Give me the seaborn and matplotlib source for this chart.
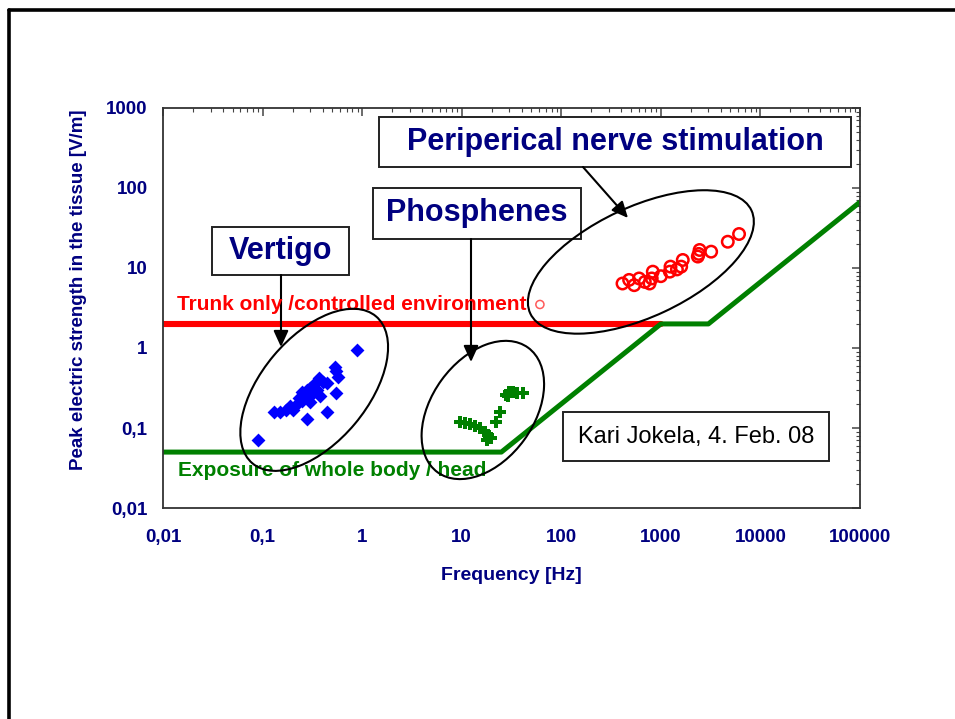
import numpy as np
import pandas as pd
import matplotlib
matplotlib.use("Agg")
import matplotlib.pyplot as plt
from matplotlib.patches import Ellipse, Rectangle
from matplotlib.lines import Line2D
from matplotlib.ticker import NullFormatter
from matplotlib.transforms import IdentityTransform
import seaborn as sns

# Vertigo thresholds
vertigo_freq = [0.09, 0.13, 0.15, 0.17, 0.19, 0.20, 0.22, 0.23, 0.25, 0.25, 0.27, 0.28, 0.28,
                0.30, 0.30, 0.32, 0.33, 0.35, 0.37, 0.38, 0.40, 0.44, 0.44, 0.53, 0.55, 0.57,
                0.55, 0.88]
vertigo_field = [0.07, 0.16, 0.16, 0.17, 0.19, 0.17, 0.20, 0.24, 0.22, 0.28, 0.25, 0.30, 0.13,
                 0.21, 0.32, 0.27, 0.35, 0.30, 0.42, 0.25, 0.38, 0.16, 0.36, 0.58, 0.51, 0.44,
                 0.27, 0.94]

# Phosphene thresholds
phos_freq = [9.6, 10.7, 12.0, 13.5, 15.2, 17.0, 18.3, 17.8, 19.8, 22.3, 24.5, 28, 29, 30,
             32.5, 35.5, 41]
phos_field = [0.12, 0.116, 0.112, 0.106, 0.099, 0.09, 0.082, 0.071, 0.074, 0.12, 0.16, 0.26,
              0.25, 0.28, 0.28, 0.27, 0.27]

# Peripheral nerve stimulation thresholds
pns_freq = [412, 480, 540, 605, 690, 770, 810, 830, 1000, 1230, 1250, 1450, 1600, 1660, 2350,
            2400, 2450, 3200, 4700, 6100]
pns_field = [6.4, 7.1, 6.1, 7.4, 6.7, 6.4, 7.4, 9.0, 7.9, 9.0, 10.4, 9.6, 10.4, 12.6, 13.9,
             15.0, 16.8, 16.0, 21.3, 26.6]
pns_extra_freq = [61]
pns_extra_field = [3.5]

# Limit curves
trunk_freq = [0.01, 1000]
trunk_field = [2, 2]
body_freq = [0.01, 25, 1000, 3000, 100000]
body_field = [0.05, 0.05, 2, 2, 66.7]

x_ticks = [0.01, 0.1, 1, 10, 100, 1000, 10000, 100000]
x_tick_labels = ["0,01", "0,1", "1", "10", "100", "1000", "10000", "100000"]
y_ticks = [0.01, 0.1, 1, 10, 100, 1000]
y_tick_labels = ["0,01", "0,1", "1", "10", "100", "1000"]

NAVY = "#000080"
RED = "#ff0000"
GREEN = "#008000"
BLUE = "#0000ff"

sns.set_theme(style="white")
plt.rcParams["font.family"] = ["Liberation Sans", "DejaVu Sans"]

W, H = 955, 719
fig = plt.figure(figsize=(W / 100, H / 100), dpi=100)
fig.patch.set_facecolor("white")

# axes box in pixel units
L, R, T, B = 163, 860, 108, 508
ax = fig.add_axes([L / W, 1 - B / H, (R - L) / W, (B - T) / H])
ax.set_xscale("log")
ax.set_yscale("log")
ax.set_xlim(0.01, 100000)
ax.set_ylim(0.01, 1000)

def ax_frac(px, py):
    return ((px - L) / (R - L), (B - py) / (B - T))

# limit lines
sns.lineplot(x=trunk_freq, y=trunk_field, ax=ax, color=RED, lw=4.4, sort=False,
             estimator=None, zorder=2)
sns.lineplot(x=body_freq, y=body_field, ax=ax, color=GREEN, lw=3.6, sort=False,
             estimator=None, zorder=2.1)

# threshold data
sns.scatterplot(x=vertigo_freq, y=vertigo_field, ax=ax, marker="D", s=50, color=BLUE,
                linewidth=0, zorder=3)
sns.scatterplot(x=phos_freq, y=phos_field, ax=ax, marker="P", s=85, color=GREEN,
                linewidth=0, zorder=3)
sns.scatterplot(x=pns_freq, y=pns_field, ax=ax, marker="o", s=68, color=RED, zorder=3)
coll = ax.collections[-1]
coll.set_facecolor("none")
coll.set_edgecolor(RED)
coll.set_linewidth(1.8)
sns.scatterplot(x=pns_extra_freq, y=pns_extra_field, ax=ax, marker="o", s=34, color=RED,
                zorder=3)
coll = ax.collections[-1]
coll.set_facecolor("none")
coll.set_edgecolor("#ff5a5a")
coll.set_linewidth(1.1)

fig.canvas.draw()

# ellipses around the groups (centre in data units, axes in pixels)
for (cx, cy), a, b, ang in [((0.33, 0.30), 96, 53, 50),
                            ((16.3, 0.168), 77, 51, 54),
                            ((630, 11.9), 122, 55, 25)]:
    cen = ax.transData.transform((cx, cy))
    e = Ellipse(cen, 2 * a, 2 * b, angle=ang, transform=IdentityTransform(),
                fill=False, edgecolor="black", lw=1.5, zorder=4, clip_on=False)
    fig.add_artist(e)

# labelled boxes
boxes = [("Vertigo", 212, 227, 349, 275, 22, "bold", NAVY),
         ("Phosphenes", 373, 188, 581, 239, 22, "bold", NAVY),
         ("Periperical nerve stimulation", 379, 117, 851, 167, 22, "bold", NAVY),
         ("Kari Jokela, 4. Feb. 08", 563, 412, 829, 461, 17, "normal", "black")]
for txt, x0, y0, x1, y1, fs, fw, col in boxes:
    fx0, fy1 = ax_frac(x0, y1)
    fx1, fy0 = ax_frac(x1, y0)
    ax.add_patch(Rectangle((fx0, fy1), fx1 - fx0, fy0 - fy1, transform=ax.transAxes,
                           facecolor="white", edgecolor="#222222", lw=1.4, zorder=5,
                           clip_on=False))
    ax.text((fx0 + fx1) / 2, (fy0 + fy1) / 2, txt, transform=ax.transAxes, ha="center",
            va="center", fontsize=fs, fontweight=fw, color=col, zorder=6)

# arrows from the boxes to the groups
for (sx, sy), (ex, ey) in [((281, 275), (281, 347)),
                           ((471, 239), (471, 362)),
                           ((583, 167), (628, 218))]:
    ax.annotate("", xy=ax_frac(ex, ey), xytext=ax_frac(sx, sy), xycoords="axes fraction",
                textcoords="axes fraction",
                arrowprops=dict(arrowstyle="-|>,head_length=0.7,head_width=0.32",
                                mutation_scale=14, color="black", lw=1.5,
                                shrinkA=0, shrinkB=0), zorder=5)

# limit labels
ax.text(*ax_frac(177, 304), "Trunk only /controlled environment", transform=ax.transAxes,
        ha="left", va="center", fontsize=15, fontweight="bold", color=RED, zorder=5)
ax.text(*ax_frac(178, 470), "Exposure of whole body / head", transform=ax.transAxes,
        ha="left", va="center", fontsize=15, fontweight="bold", color=GREEN, zorder=5)

# axes styling
ax.set_xticks(x_ticks)
ax.set_xticklabels(x_tick_labels)
ax.set_yticks(y_ticks)
ax.set_yticklabels(y_tick_labels)
ax.xaxis.set_minor_formatter(NullFormatter())
ax.yaxis.set_minor_formatter(NullFormatter())
ax.tick_params(which="both", direction="in", top=True, right=True, colors="#444444")
ax.tick_params(which="major", length=6, width=1.1)
ax.tick_params(which="minor", length=3, width=0.8)
ax.tick_params(axis="x", which="major", pad=15, labelsize=13.5, labelcolor=NAVY)
ax.tick_params(axis="y", which="major", pad=11, labelsize=13.5, labelcolor=NAVY)
for lab in ax.get_xticklabels() + ax.get_yticklabels():
    lab.set_fontweight("bold")
for sp in ax.spines.values():
    sp.set_color("#333333")
    sp.set_linewidth(1.3)

ax.set_xlabel("Frequency [Hz]", fontsize=14, fontweight="bold", color=NAVY)
ax.xaxis.set_label_coords(*ax_frac(511, 576))
ax.set_ylabel("Peak electric strength in the tissue [V/m]", fontsize=13.5,
              fontweight="bold", color=NAVY)
ax.yaxis.set_label_coords(*ax_frac(78, 290))
ax.xaxis.label.set_va("center")
ax.yaxis.label.set_va("center")

# page frame
fig.add_artist(Line2D([9 / W, 1], [1 - 10 / H, 1 - 10 / H], transform=fig.transFigure,
                      color="black", lw=2.6))
fig.add_artist(Line2D([9 / W, 9 / W], [0, 1 - 10 / H], transform=fig.transFigure,
                      color="black", lw=2.6))

fig.savefig("out.png", dpi=100)
